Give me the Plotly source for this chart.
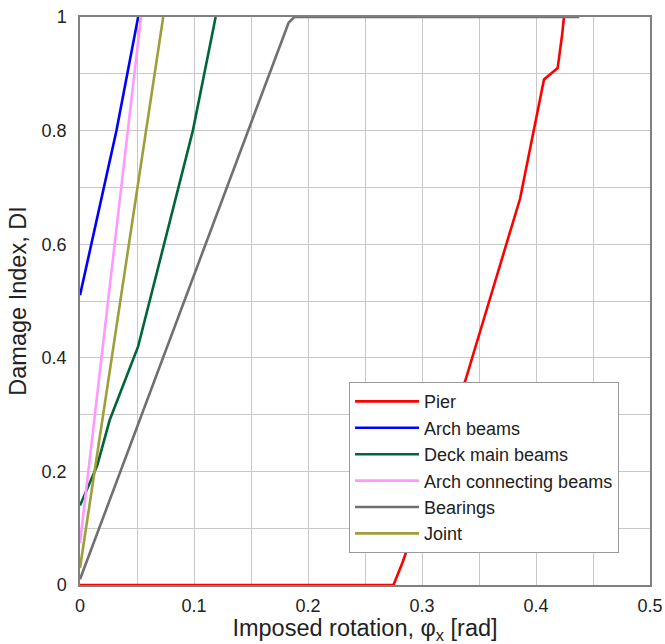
import plotly.graph_objects as go

# Data
pier_x = [0.0, 0.275, 0.283, 0.338, 0.359, 0.386, 0.407, 0.419, 0.423, 0.4245]
pier_y = [0.0, 0.0, 0.04, 0.36, 0.50, 0.68, 0.89, 0.91, 0.97, 1.0]

arch_x = [0.0, 0.032, 0.051]
arch_y = [0.51, 0.80, 1.0]

deck_x = [0.0, 0.015, 0.026, 0.051, 0.099, 0.119]
deck_y = [0.14, 0.21, 0.29, 0.42, 0.80, 1.0]

conn_x = [0.0, 0.0535]
conn_y = [0.074, 1.0]

bear_x = [0.0, 0.183, 0.188, 0.438]
bear_y = [0.01, 0.99, 1.0, 1.0]

joint_x = [0.0, 0.073]
joint_y = [0.03, 1.0]

series = [
    ("Pier", pier_x, pier_y, "#FF0000"),
    ("Arch beams", arch_x, arch_y, "#0000FF"),
    ("Deck main beams", deck_x, deck_y, "#00663A"),
    ("Arch connecting beams", conn_x, conn_y, "#FF99FF"),
    ("Bearings", bear_x, bear_y, "#707070"),
    ("Joint", joint_x, joint_y, "#9E9E3A"),
]

fig = go.Figure()
for name, xs, ys, col in series:
    fig.add_trace(go.Scatter(x=xs, y=ys, mode="lines", name=name,
                             line=dict(color=col, width=2.6), cliponaxis=False))

font_family = "Liberation Sans, Arial, sans-serif"
fig.update_layout(
    width=665, height=644,
    margin=dict(l=80, r=15, t=17, b=59, autoexpand=False),
    paper_bgcolor="white", plot_bgcolor="white",
    font=dict(family=font_family, color="#222222", size=18),
    showlegend=True,
    legend=dict(x=0.472, y=0.357, xanchor="left", yanchor="top",
                bgcolor="white", bordercolor="#999999", borderwidth=1,
                font=dict(size=18, family=font_family, color="#222222"),
                itemwidth=64, tracegroupgap=0),
    xaxis=dict(range=[0, 0.5], dtick=0.1, tick0=0, showgrid=True,
               gridcolor="#C8C8C8", gridwidth=1,
               minor=dict(dtick=0.05, showgrid=True, gridcolor="#C8C8C8", gridwidth=1),
               showline=True, linecolor="#808080", linewidth=1.5, mirror=True,
               zeroline=False, ticks="", automargin=False,
               ticklabelstandoff=4,
               title=dict(text="Imposed rotation, φ<sub>x</sub> [rad]", font=dict(size=23.5), standoff=4)),
    yaxis=dict(range=[0, 1], dtick=0.2, tick0=0, showgrid=True,
               gridcolor="#C8C8C8", gridwidth=1,
               minor=dict(dtick=0.1, showgrid=True, gridcolor="#C8C8C8", gridwidth=1),
               showline=True, linecolor="#808080", linewidth=1.5, mirror=True,
               zeroline=False, ticks="", automargin=False,
               ticklabelstandoff=8,
               title=dict(text="Damage Index, DI", font=dict(size=23.5), standoff=8)),
)

fig.write_html("out.html")
